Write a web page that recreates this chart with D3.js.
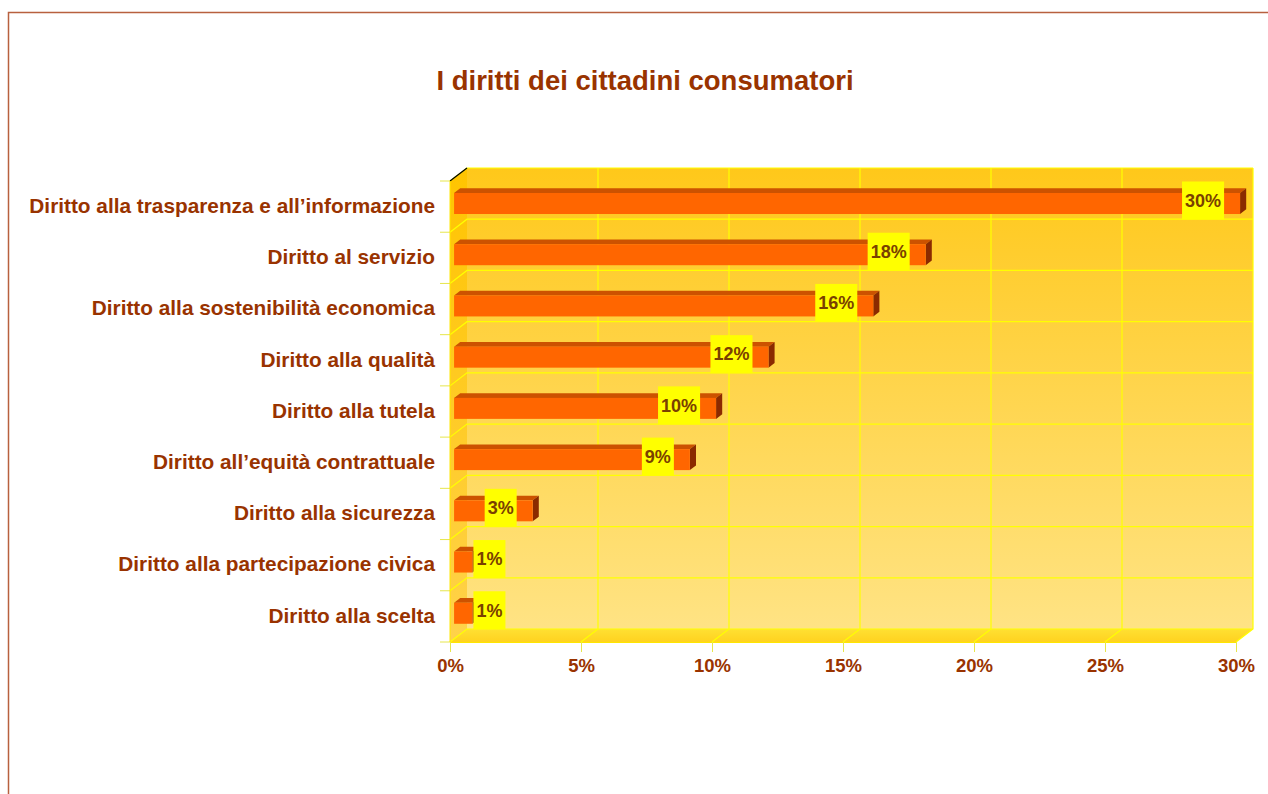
<!DOCTYPE html>
<html>
<head>
<meta charset="utf-8">
<script src="https://cdn.jsdelivr.net/npm/d3@7"></script>
<style>
  body { margin: 0; background: #ffffff; }
  text { font-family: Arial, "Liberation Sans", sans-serif; font-weight: bold; }
</style>
</head>
<body>
<div id="chart"></div>
<script>
// Data
let categories = [
    "Diritto alla trasparenza e all’informazione",
    "Diritto al servizio",
    "Diritto alla sostenibilità economica",
    "Diritto alla qualità",
    "Diritto alla tutela",
    "Diritto all’equità contrattuale",
    "Diritto alla sicurezza",
    "Diritto alla partecipazione civica",
    "Diritto alla scelta"
];
let values = [30, 18, 16, 12, 10, 9, 3, 0.7, 0.7];
let valueLabels = ["30%", "18%", "16%", "12%", "10%", "9%", "3%", "1%", "1%"];
let xTicks = [0, 5, 10, 15, 20, 25, 30];
let chartTitle = "I diritti dei cittadini consumatori";

let svgWidth = 1268;
let svgHeight = 794;

let svg = d3.select("#chart")
    .append("svg")
    .attr("width", svgWidth)
    .attr("height", svgHeight);

// gradients
let defs = svg.append("defs");
let wallGrad = defs.append("linearGradient")
    .attr("id", "wallGrad").attr("x1", 0).attr("y1", 0).attr("x2", 0).attr("y2", 1);
wallGrad.append("stop").attr("offset", "0%").attr("stop-color", "#ffc81a");
wallGrad.append("stop").attr("offset", "100%").attr("stop-color", "#ffe384");

let sideGrad = defs.append("linearGradient")
    .attr("id", "sideGrad").attr("x1", 0).attr("y1", 0).attr("x2", 0).attr("y2", 1);
sideGrad.append("stop").attr("offset", "0%").attr("stop-color", "#ffc400");
sideGrad.append("stop").attr("offset", "100%").attr("stop-color", "#ffd24a");

let floorGrad = defs.append("linearGradient")
    .attr("id", "floorGrad").attr("x1", 0).attr("y1", 0).attr("x2", 0).attr("y2", 1);
floorGrad.append("stop").attr("offset", "0%").attr("stop-color", "#ffe033");
floorGrad.append("stop").attr("offset", "100%").attr("stop-color", "#ffd21f");

// outer frame
svg.append("path")
    .attr("d", `M8.5,${svgHeight} L8.5,12.5 L${svgWidth},12.5`)
    .attr("fill", "none")
    .attr("stroke", "#b8603f")
    .attr("stroke-width", 1.5);

// title
svg.append("text")
    .attr("x", 645)
    .attr("y", 90)
    .attr("text-anchor", "middle")
    .attr("font-size", "27.5px")
    .attr("fill", "#993300")
    .text(chartTitle);

// scales (front plane)
let x = d3.scaleLinear().domain([0, 30]).range([450, 1236]);
let y = d3.scaleBand().domain(categories).range([181, 642]);

// 3D depth offset
let dx = 17, dy = -13;
let x0 = x(0), x1 = x(30), yTop = y.range()[0], yBot = y.range()[1];

// back wall
svg.append("rect")
    .attr("x", x0 + dx).attr("y", yTop + dy)
    .attr("width", x1 - x0).attr("height", yBot - yTop)
    .attr("fill", "url(#wallGrad)");

// left side wall
svg.append("path")
    .attr("d", `M${x0},${yTop} L${x0 + dx},${yTop + dy} L${x0 + dx},${yBot + dy} L${x0},${yBot} Z`)
    .attr("fill", "url(#sideGrad)");

// floor
svg.append("path")
    .attr("d", `M${x0},${yBot} L${x0 + dx},${yBot + dy} L${x1 + dx},${yBot + dy} L${x1},${yBot} Z`)
    .attr("fill", "url(#floorGrad)");

// gridlines
let grid = svg.append("g")
    .attr("stroke", "#ffff00")
    .attr("stroke-width", 1.2)
    .attr("fill", "none");

xTicks.forEach(function (t) {
    if (t === 0) return;
    grid.append("path")
        .attr("d", `M${x(t)},${yBot} L${x(t) + dx},${yBot + dy} L${x(t) + dx},${yTop + dy}`);
});

let bounds = categories.map(c => y(c)).concat([yBot]);
bounds.forEach(function (b) {
    grid.append("path")
        .attr("d", `M${x0},${b} L${x0 + dx},${b + dy} L${x1 + dx},${b + dy}`);
});

// top-left corner edge
svg.append("line")
    .attr("x1", x0).attr("y1", yTop)
    .attr("x2", x0 + dx).attr("y2", yTop + dy)
    .attr("stroke", "#000000").attr("stroke-width", 1.2);

// axis ticks on the left
svg.append("g")
    .selectAll("line")
    .data(bounds)
    .enter()
    .append("line")
    .attr("x1", x0 - 10).attr("x2", x0)
    .attr("y1", d => d).attr("y2", d => d)
    .attr("stroke", "#e6e64d").attr("stroke-width", 1);

svg.append("line")
    .attr("x1", x0).attr("x2", x0)
    .attr("y1", yTop).attr("y2", yBot)
    .attr("stroke", "#ffe600").attr("stroke-width", 1);

// bottom axis
let bottomAxis = d3.axisBottom(x)
    .tickValues(xTicks)
    .tickFormat(d => d + "%")
    .tickSize(10)
    .tickPadding(7);

let xAxis = svg.append("g")
    .attr("transform", `translate(0, ${yBot})`)
    .call(bottomAxis);
xAxis.select(".domain").attr("stroke", "#ffe600").attr("d", `M${x0},0.5H${x1}`);
xAxis.selectAll(".tick line").attr("stroke", "#e6e64d");
xAxis.selectAll(".tick text")
    .attr("fill", "#993300")
    .attr("font-size", "18.5px")
    .attr("font-family", "Arial, 'Liberation Sans', sans-serif")
    .attr("font-weight", "bold");

// category labels
svg.append("g")
    .selectAll("text")
    .data(categories)
    .enter()
    .append("text")
    .attr("x", 435)
    .attr("y", d => y(d) + y.bandwidth() / 2 - 1)
    .attr("dy", "0.35em")
    .attr("text-anchor", "end")
    .attr("font-size", "20.8px")
    .attr("fill", "#993300")
    .text(d => d);

// bars (3D boxes sitting inside the depth)
let f0 = 0.24, f1 = 0.6;
let barH = y.bandwidth() * 0.41;
let bx = dx * f0, by = dy * f0;
let ddx = dx * (f1 - f0), ddy = dy * (f1 - f0);

let bars = svg.append("g")
    .selectAll("g")
    .data(categories)
    .enter()
    .append("g");

bars.each(function (c, i) {
    let g = d3.select(this);
    let left = x(0) + bx;
    let right = x(values[i]) + bx;
    let top = y(c) + y.bandwidth() / 2 - barH / 2 + by;
    let bottom = top + barH;

    // top face
    g.append("path")
        .attr("d", `M${left},${top} L${left + ddx},${top + ddy} L${right + ddx},${top + ddy} L${right},${top} Z`)
        .attr("fill", "#cc5200");
    // side face
    g.append("path")
        .attr("d", `M${right},${top} L${right + ddx},${top + ddy} L${right + ddx},${bottom + ddy} L${right},${bottom} Z`)
        .attr("fill", "#8b2a00");
    // front face
    g.append("rect")
        .attr("x", left).attr("y", top)
        .attr("width", right - left).attr("height", barH)
        .attr("fill", "#ff6600");

    // value label with yellow box
    let cy = top + barH / 2 - 3;
    let box = g.append("rect").attr("fill", "#ffff00");
    let label = g.append("text")
        .attr("y", cy)
        .attr("dy", "0.35em")
        .attr("text-anchor", "middle")
        .attr("font-size", "18px")
        .attr("fill", "#7a4000")
        .text(valueLabels[i]);

    let boxW = label.node().getComputedTextLength() + 6;
    let boxH = 38;
    let boxX = right - 16 - boxW;
    if (boxX < left + 4) boxX = right + 1;

    box.attr("x", boxX).attr("y", cy - boxH / 2)
        .attr("width", boxW).attr("height", boxH);
    label.attr("x", boxX + boxW / 2);
});
</script>
</body>
</html>
